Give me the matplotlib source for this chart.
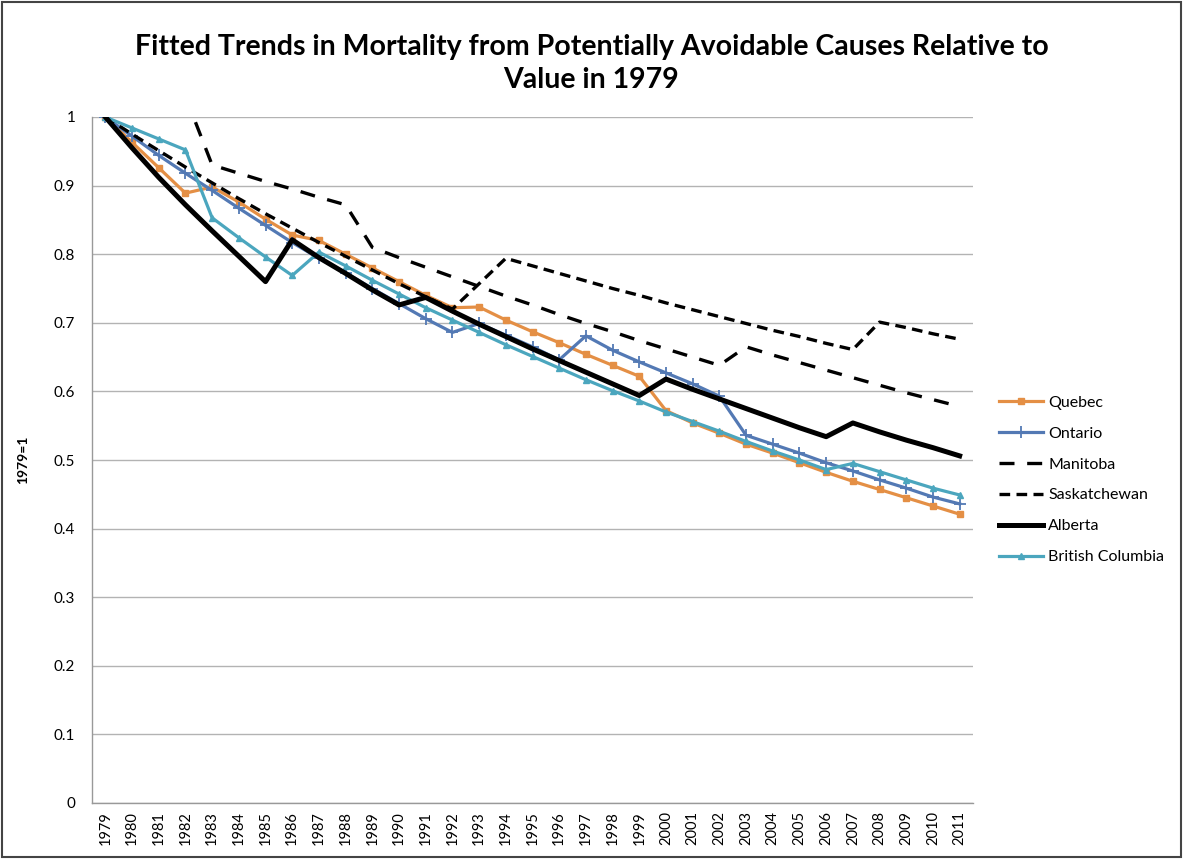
import matplotlib
matplotlib.use("Agg")
import matplotlib.pyplot as plt
import numpy as np
from matplotlib.patches import Rectangle

years = list(range(1979, 2012))

quebec = [1.0, 0.963, 0.926, 0.889, 0.898, 0.876, 0.851, 0.828, 0.820, 0.800, 0.780,
          0.760, 0.740, 0.722, 0.723, 0.704, 0.687, 0.671, 0.654, 0.638, 0.622,
          0.572, 0.554, 0.539, 0.523, 0.510, 0.496, 0.482, 0.469, 0.457, 0.445,
          0.433, 0.421]
ontario = [1.0, 0.972, 0.944, 0.918, 0.893, 0.867, 0.842, 0.817, 0.794, 0.773, 0.750,
           0.728, 0.706, 0.686, 0.699, 0.682, 0.665, 0.646, 0.681, 0.660, 0.643,
           0.627, 0.611, 0.593, 0.536, 0.523, 0.510, 0.496, 0.484, 0.471, 0.459,
           0.446, 0.436]
manitoba = [np.nan, np.nan, np.nan, 1.03, 0.930, 0.918, 0.906, 0.895, 0.883, 0.872, 0.810,
            0.795, 0.781, 0.767, 0.753, 0.739, 0.726, 0.712, 0.699, 0.687, 0.674,
            0.662, 0.650, 0.638, 0.665, 0.653, 0.642, 0.631, 0.620, 0.609, 0.598,
            0.588, 0.578]
saskatchewan = [1.0, 0.975, 0.951, 0.927, 0.904, 0.881, 0.859, 0.838, 0.817, 0.797, 0.777,
                0.757, 0.738, 0.720, 0.757, 0.794, 0.783, 0.772, 0.761, 0.750, 0.740,
                0.729, 0.719, 0.709, 0.699, 0.689, 0.680, 0.670, 0.661, 0.701, 0.693,
                0.684, 0.676]
alberta = [1.0, 0.955, 0.912, 0.872, 0.834, 0.797, 0.760, 0.821, 0.795, 0.772, 0.748,
           0.726, 0.737, 0.717, 0.698, 0.680, 0.662, 0.645, 0.628, 0.611, 0.594,
           0.618, 0.603, 0.589, 0.575, 0.561, 0.547, 0.534, 0.554, 0.541, 0.529,
           0.518, 0.506]
british_columbia = [1.0, 0.984, 0.968, 0.952, 0.853, 0.824, 0.796, 0.769, 0.803, 0.783, 0.762,
                    0.742, 0.722, 0.704, 0.686, 0.668, 0.651, 0.634, 0.617, 0.601, 0.586,
                    0.570, 0.556, 0.542, 0.527, 0.513, 0.500, 0.486, 0.495, 0.483, 0.471,
                    0.459, 0.449]

title = "Fitted Trends in Mortality from Potentially Avoidable Causes Relative to\nValue in 1979"
ylabel = "1979=1"

plt.rcParams['font.family'] = ['Lato', 'DejaVu Sans']

fig = plt.figure(figsize=(11.83, 8.59), dpi=100)
ax = fig.add_axes([92/1183, 1 - 803/859, (973-92)/1183, (803-117)/859])

ax.plot(years, quebec, color='#E48F45', lw=2.3, marker='s', ms=4.5, label='Quebec', zorder=3)
ax.plot(years, ontario, color='#5379B4', lw=2.3, marker='+', ms=8, mew=1.3, label='Ontario', zorder=3)
ax.plot(years, manitoba, color='black', lw=2.4, dashes=(4.5, 3.8), label='Manitoba', zorder=3)
ax.plot(years, saskatchewan, color='black', lw=2.4, dashes=(3.2, 1.9), label='Saskatchewan', zorder=3)
ax.plot(years, alberta, color='black', lw=3.6, label='Alberta', zorder=4)
ax.plot(years, british_columbia, color='#4BA6BE', lw=2.3, marker='^', ms=4.5, label='British Columbia', zorder=3)

ax.set_xlim(1978.5, 2011.5)
ax.set_ylim(0, 1)
ax.set_yticks(np.arange(0, 1.01, 0.1))
ax.set_yticklabels(['0'] + [f'{v:.1f}' for v in np.arange(0.1, 0.95, 0.1)] + ['1'])
ax.set_xticks(years)
ax.set_xticklabels([str(y) for y in years], rotation=90)
ax.tick_params(axis='x', labelsize=10.5, length=0, pad=6)
ax.tick_params(axis='y', labelsize=11, length=0, pad=12)
ax.grid(axis='y', color='#B3B3B3', lw=1)
ax.set_axisbelow(True)
for s in ['top', 'right']:
    ax.spines[s].set_visible(False)
for s in ['left', 'bottom']:
    ax.spines[s].set_color('#999999')
    ax.spines[s].set_linewidth(1)

ax.set_ylabel(ylabel, fontsize=10, fontweight='bold', labelpad=18)

fig.suptitle(title, fontsize=20.5, fontweight='bold', y=0.96, linespacing=1.3)

leg = ax.legend(loc='center left', bbox_to_anchor=(1.022, 0.471), frameon=False,
                fontsize=11.5, handlelength=2.8, labelspacing=1.05, handletextpad=0.3,
                borderpad=0.4, borderaxespad=0)

fig.patches.append(Rectangle((0.002, 0.002), 0.996, 0.996, transform=fig.transFigure,
                             fill=False, edgecolor='#444444', lw=1.5))

fig.savefig('out.png', dpi=100, facecolor='white')
